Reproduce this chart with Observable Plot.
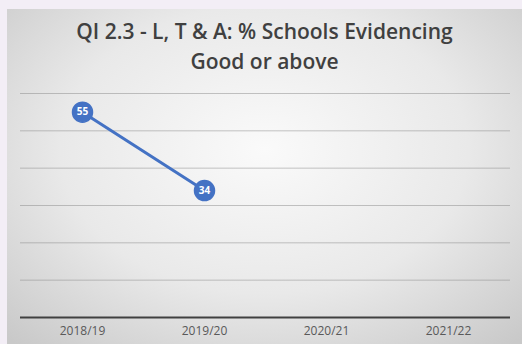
<!DOCTYPE html>
<html>
<head>
<meta charset="utf-8">
<script src="https://cdn.jsdelivr.net/npm/d3@7"></script>
<script src="https://cdn.jsdelivr.net/npm/@observablehq/plot@0.6"></script>
<style>
  html, body { margin: 0; padding: 0; }
  body { width: 522px; height: 344px; background: #f3eef6; overflow: hidden; }
  #panel {
    position: absolute; left: 7px; top: 9px; width: 515px; height: 335px;
    background: radial-gradient(ellipse 72% 78% at 50% 42%, #fafafa 0%, #e9e9e9 55%, #c9c9c9 100%);
  }
  #title {
    position: absolute; left: 7px; top: 9px; width: 515px;
    text-align: center; font-family: "Open Sans", sans-serif; font-weight: 600;
    font-size: 21px; line-height: 30px; color: #404040; padding-top: 7px;
  }
  #chart { position: absolute; left: 0; top: 0; }
</style>
</head>
<body>
<div id="panel"></div>
<div id="title">QI 2.3 - L, T &amp; A: % Schools Evidencing<br>Good or above</div>
<div id="chart"></div>
<script>
// School years on the x axis
const years = ["2018/19", "2019/20", "2020/21", "2021/22"];
// % of schools evaluated good or above (reported years only)
const values = [55, 34];
// Horizontal gridline levels
const gridLevels = [10, 20, 30, 40, 50, 60];

const data = values.map((v, i) => ({year: years[i], value: v}));

const chart = Plot.plot({
  width: 522,
  height: 344,
  marginLeft: 20,
  marginRight: 12,
  marginTop: 93,
  marginBottom: 27,
  style: {background: "transparent", fontFamily: "'Open Sans', sans-serif"},
  x: {type: "point", domain: years, padding: 0.5, label: null},
  y: {domain: [0, 60], axis: null},
  marks: [
    Plot.ruleY(gridLevels, {stroke: "#808080", strokeOpacity: 0.45, strokeWidth: 1}),
    Plot.ruleY([0], {stroke: "#404040", strokeWidth: 2}),
    Plot.axisX({tickSize: 0, tickPadding: 9, fontSize: 12, fill: "#595959", label: null}),
    Plot.line(data, {x: "year", y: "value", stroke: "#4472C4", strokeWidth: 3}),
    Plot.dot(data, {x: "year", y: "value", r: 10, fill: "#4472C4", stroke: "#4472C4"}),
    Plot.text(data, {x: "year", y: "value", text: d => String(d.value), fill: "white",
      fontWeight: "bold", fontSize: 10})
  ]
});
document.getElementById("chart").appendChild(chart);
</script>
</body>
</html>
